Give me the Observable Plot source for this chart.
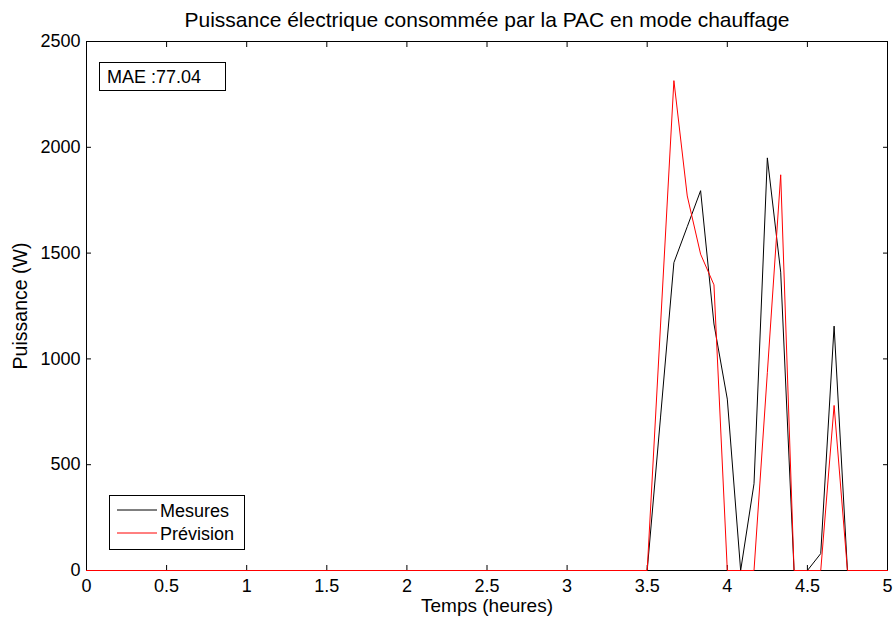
<!DOCTYPE html>
<html><head><meta charset="utf-8">
<script src="https://cdn.jsdelivr.net/npm/d3@7"></script>
<script src="https://cdn.jsdelivr.net/npm/@observablehq/plot@0.6"></script>
<style>body{margin:0;background:#fff}</style>
</head><body><div id="chart"></div>
<script>
const title = "Puissance électrique consommée par la PAC en mode chauffage";
const xLabel = "Temps (heures)";
const yLabel = "Puissance (W)";
const maeText = "MAE :77.04";
const seriesNames = ["Mesures", "Prévision"];
const seriesColors = ["#000000", "#ff0000"];
const timeH = [0, 3.5, 3.5833, 3.6667, 3.75, 3.8333, 3.9167, 4.0, 4.0833, 4.1667, 4.25, 4.3333, 4.4167, 4.5, 4.5833, 4.6667, 4.75, 5];
const mesures = [0, 0, 725, 1455, 1625, 1795, 1165, 810, 0, 410, 1950, 1410, 0, 0, 80, 1155, 0, 0];
const prevision = [0, 0, 1160, 2315, 1770, 1495, 1350, 0, 0, 0, 935, 1870, 0, 0, 0, 780, 0, 0];
const xTicks = [0, 0.5, 1, 1.5, 2, 2.5, 3, 3.5, 4, 4.5, 5];
const yTicks = [0, 500, 1000, 1500, 2000, 2500];

const rowsM = timeH.map((t, i) => ({t, v: mesures[i]}));
const rowsP = timeH.map((t, i) => ({t, v: prevision[i]}));
const font = "'Liberation Sans', Arial, sans-serif";

const plot = Plot.plot({
  width: 893, height: 621,
  marginLeft: 86, marginRight: 6, marginTop: 41, marginBottom: 51,
  style: {fontFamily: font, fontSize: "18px", background: "#fff", color: "#000", overflow: "visible"},
  x: {domain: [0, 5]},
  y: {domain: [0, 2500]},
  marks: [
    Plot.axisX(xTicks, {anchor: "bottom", tickSize: -5, tickPadding: 14, tickFormat: d => String(d), label: null, fontSize: 18}),
    Plot.axisX(xTicks, {anchor: "top", tickSize: -5, tickFormat: () => "", label: null}),
    Plot.axisY(yTicks, {anchor: "left", tickSize: -5, tickPadding: 11, tickFormat: d => String(d), label: null, fontSize: 18}),
    Plot.axisY(yTicks, {anchor: "right", tickSize: -5, tickFormat: () => "", label: null}),
    Plot.frame({stroke: "#000", strokeWidth: 1}),
    Plot.line(rowsM, {x: "t", y: "v", stroke: seriesColors[0], strokeWidth: 1}),
    Plot.line(rowsP, {x: "t", y: "v", stroke: seriesColors[1], strokeWidth: 1}),
    Plot.text([title], {frameAnchor: "top", dy: -21, fontSize: 21, lineAnchor: "middle", textAnchor: "middle"}),
    Plot.text([xLabel], {frameAnchor: "bottom", dy: 35, fontSize: 19, lineAnchor: "middle", textAnchor: "middle"}),
    Plot.text([yLabel], {frameAnchor: "left", dx: -66, rotate: -90, fontSize: 19.5, lineAnchor: "middle", textAnchor: "middle"})
  ]
});

const svg = d3.select(plot);
const ann = svg.append("g").attr("font-family", font).attr("font-size", 18).attr("text-anchor", "start");
ann.append("rect").attr("x", 99.5).attr("y", 62.5).attr("width", 126).attr("height", 28)
  .attr("fill", "#fff").attr("stroke", "#000");
ann.append("text").attr("x", 107).attr("y", 83).attr("text-anchor", "start").text(maeText);

const leg = ann.append("g");
leg.append("rect").attr("x", 109.5).attr("y", 495.5).attr("width", 135).attr("height", 54)
  .attr("fill", "#fff").attr("stroke", "#000");
seriesNames.forEach((name, i) => {
  const y = 510 + i * 23;
  leg.append("line").attr("x1", 117).attr("x2", 157).attr("y1", y).attr("y2", y)
    .attr("stroke", seriesColors[i]).attr("stroke-width", 1);
  leg.append("text").attr("x", 160).attr("y", y + 7).attr("text-anchor", "start").text(name);
});

document.getElementById("chart").appendChild(plot);
</script>
</body></html>
